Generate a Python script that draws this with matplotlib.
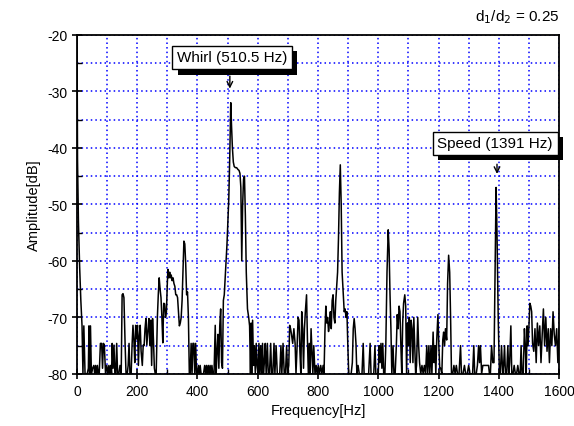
import numpy as np
import matplotlib.pyplot as plt
from matplotlib.ticker import MultipleLocator
from matplotlib import patheffects

plt.rcParams['font.family'] = ['Liberation Sans', 'DejaVu Sans']
plt.rcParams['axes.unicode_minus'] = False

# 频谱数据
spectrum = [
    (0, -15), (2, -42), (5, -53), (9, -61), (13, -67), (17, -71.5), (20, -80), (23, -71.5),
    (27, -80), (30, -80), (34, -80), (38, -79), (40, -71.5), (42, -80), (45, -71.5), (48, -80),
    (52, -79), (56, -78.5), (59, -80), (62, -78.5), (65, -80), (68, -78.5), (71, -80), (74, -80),
    (78, -74.6), (82, -74.6), (85, -79), (88, -74.6), (91, -74.9), (95, -80), (99, -78.5), (103, -80),
    (106, -78.5), (109, -80), (112, -78.5), (115, -80), (117, -74.6), (120, -79), (123, -74.9), (126, -80),
    (129, -80), (132, -74.6), (135, -80), (139, -80), (143, -78.5), (147, -80), (150, -66), (153, -65.8),
    (156, -66.5), (160, -74.9), (163, -80), (167, -80), (170, -78.5), (173, -74.6), (176, -80), (180, -80),
    (183, -74.9), (186, -71.4), (189, -74), (192, -78), (195, -71.4), (198, -73.8), (201, -71.4), (204, -78.5),
    (207, -73.2), (210, -71.4), (213, -76), (217, -78.5), (220, -74.9), (223, -75), (226, -72), (229, -70.2),
    (232, -74.9), (236, -72), (239, -70.2), (242, -75), (245, -70.5), (248, -78.5), (251, -70.2), (254, -74),
    (257, -79), (260, -80), (263, -80), (267, -70), (270, -66), (273, -63), (276, -65), (279, -66.5),
    (282, -70), (285, -74.5), (288, -67.5), (291, -67.6), (294, -70), (297, -69), (300, -64), (302, -61.5),
    (305, -63), (308, -62), (310, -63), (313, -62.5), (316, -63.5), (319, -63), (322, -64), (325, -64.5),
    (328, -66), (331, -66), (334, -66.5), (337, -69), (340, -71.5), (343, -71), (346, -70), (349, -67),
    (352, -62), (355, -56.5), (358, -57), (361, -60.5), (364, -66), (367, -65.5), (370, -70), (373, -80),
    (376, -80), (379, -74.6), (382, -80), (385, -74.6), (388, -74.6), (391, -80), (394, -74.6), (397, -80),
    (400, -80), (403, -78.5), (406, -80), (409, -78.5), (412, -80), (416, -80), (420, -80), (424, -78.5),
    (427, -80), (430, -78.5), (433, -80), (436, -78.5), (439, -80), (442, -78.5), (445, -80), (448, -78.5),
    (451, -80), (455, -80), (459, -71.4), (462, -80), (465, -76), (468, -73), (471, -79), (474, -71.5),
    (477, -68.5), (480, -78), (483, -79), (486, -67), (489, -66), (492, -63), (495, -60), (498, -57),
    (501, -53), (504, -49), (507, -42), (510.5, -32), (513, -36), (516, -40), (519, -42.5), (522, -43.3),
    (526, -43.5), (530, -43.5), (534, -43.8), (538, -44), (541, -44.5), (544, -47), (547, -60), (550, -50),
    (553, -45.5), (556, -45), (559, -52), (562, -62), (566, -68.5), (570, -70), (573, -71.5), (576, -80),
    (578, -71), (580, -80), (583, -70.5), (586, -78.5), (589, -75), (592, -80), (595, -74.6), (598, -78.5),
    (601, -80), (604, -74.6), (607, -80), (610, -75), (613, -80), (616, -74.6), (619, -80), (622, -78),
    (625, -74.6), (628, -80), (632, -74.6), (635, -80), (639, -80), (643, -74.6), (646, -80), (650, -80),
    (654, -74.6), (657, -80), (661, -75), (665, -80), (669, -80), (673, -80), (677, -75), (680, -80),
    (684, -74.6), (688, -80), (692, -80), (696, -75), (699, -80), (703, -78.5), (706, -71.4), (709, -72),
    (712, -73), (716, -74.6), (720, -72), (724, -74.6), (727, -80), (731, -74.6), (734, -70), (737, -70.5),
    (740, -76), (743, -80), (746, -69), (749, -72), (752, -79), (755, -72), (758, -69), (762, -66),
    (765, -74), (768, -80), (771, -74.6), (774, -80), (777, -72), (780, -76), (783, -80), (786, -75),
    (790, -80), (794, -78.5), (797, -80), (801, -78.5), (805, -80), (809, -78.5), (813, -80), (817, -78.5),
    (820, -80), (823, -72.6), (826, -68), (829, -71), (832, -70), (835, -72.5), (838, -71), (841, -69),
    (844, -72), (847, -67), (850, -66), (853, -70), (856, -71), (859, -67), (862, -64.5), (865, -62),
    (868, -56), (871, -48), (874, -43), (877, -50), (880, -62), (884, -66), (887, -69), (890, -68.5),
    (893, -70), (896, -69), (899, -75), (902, -80), (906, -80), (910, -80), (914, -78), (917, -72),
    (920, -70.2), (923, -72), (926, -74.6), (929, -80), (933, -78.5), (937, -80), (941, -80), (946, -80),
    (950, -74.6), (953, -80), (958, -80), (963, -80), (968, -80), (973, -74.6), (976, -80), (980, -80),
    (985, -80), (989, -75), (992, -80), (996, -80), (1000, -80), (1003, -75), (1006, -78), (1009, -74.6),
    (1012, -79), (1015, -74.6), (1018, -80), (1022, -80), (1025, -75), (1029, -62), (1033, -54.5), (1036, -58),
    (1039, -66), (1042, -72), (1045, -80), (1049, -75), (1052, -80), (1056, -80), (1060, -75), (1063, -69.5),
    (1066, -72), (1069, -68), (1072, -69), (1075, -75), (1078, -80), (1081, -71), (1084, -67.5), (1088, -66),
    (1091, -68), (1094, -80), (1097, -71), (1100, -75), (1103, -70), (1106, -78), (1109, -70.5), (1112, -72),
    (1115, -78), (1118, -70), (1121, -75), (1124, -80), (1127, -78.5), (1131, -70), (1134, -75), (1137, -78),
    (1141, -80), (1145, -78.5), (1149, -80), (1153, -78.5), (1157, -80), (1161, -75), (1164, -80), (1168, -75),
    (1171, -80), (1175, -75), (1178, -80), (1182, -72.6), (1185, -78), (1188, -75), (1191, -80), (1194, -74),
    (1198, -69.5), (1201, -75), (1204, -79), (1207, -79), (1211, -80), (1214, -74), (1217, -72.6), (1220, -75),
    (1223, -72), (1227, -74), (1230, -64), (1233.5, -59), (1237, -62), (1240, -70), (1243, -80), (1247, -80),
    (1251, -78.5), (1255, -80), (1259, -78.5), (1263, -80), (1268, -80), (1273, -75), (1276, -80), (1281, -80),
    (1286, -78.5), (1290, -80), (1295, -80), (1300, -78.5), (1304, -80), (1309, -80), (1313, -80), (1317, -75),
    (1320, -80), (1325, -80), (1329, -78.5), (1333, -75), (1336, -78), (1339, -75), (1343, -80), (1347, -78.5),
    (1352, -78.5), (1357, -78.5), (1362, -78.5), (1366, -78.5), (1369, -80), (1372, -80), (1376, -75), (1380, -78),
    (1384, -78), (1388, -60), (1391, -47), (1394, -55), (1398, -70), (1402, -80), (1405, -80), (1409, -75),
    (1413, -80), (1416, -78.5), (1419, -75), (1422, -80), (1426, -80), (1430, -75), (1433, -80), (1436, -78),
    (1440, -71.5), (1443, -80), (1447, -80), (1451, -78.5), (1455, -80), (1459, -80), (1463, -78.5), (1467, -80),
    (1471, -80), (1474, -75), (1477, -80), (1481, -80), (1485, -72), (1488, -75), (1491, -80), (1494, -71.5),
    (1497, -75), (1500, -71.5), (1503, -67.5), (1506, -68), (1509, -69), (1512, -74.6), (1516, -76), (1520, -72),
    (1524, -78), (1528, -71), (1532, -75), (1536, -71.5), (1540, -78), (1544, -73), (1548, -68.5), (1552, -75),
    (1556, -70), (1560, -76), (1564, -72), (1568, -78), (1572, -72), (1576, -75), (1580, -69), (1584, -73),
    (1588, -75), (1592, -72), (1596, -78), (1600, -72),
]
freq = [p[0] for p in spectrum]
amp = [p[1] for p in spectrum]

# 标注
whirl_label = 'Whirl (510.5 Hz)'
whirl_freq, whirl_amp = 510.5, -32
speed_label = 'Speed (1391 Hz)'
speed_freq, speed_amp = 1391, -47

fig = plt.figure(figsize=(5.74, 4.27), dpi=100)
ax = fig.add_axes([0.134, 0.122, 0.84, 0.794])

ax.plot(freq, amp, color='black', linewidth=1.1)

ax.set_xlim(0, 1600)
ax.set_ylim(-80, -20)
ax.xaxis.set_major_locator(MultipleLocator(200))
ax.xaxis.set_minor_locator(MultipleLocator(100))
ax.yaxis.set_major_locator(MultipleLocator(10))
ax.yaxis.set_minor_locator(MultipleLocator(5))
ax.tick_params(which='major', direction='inout', length=7, width=1.2, labelsize=10)
ax.tick_params(which='minor', direction='in', length=3.5, width=1.0)
ax.grid(True, which='both', color='blue', linestyle=(0, (1, 2)), linewidth=1.1)
for s in ax.spines.values():
    s.set_linewidth(1.3)

ax.set_xlabel('Frequency[Hz]', fontsize=10.5, labelpad=4)
ax.set_ylabel('Amplitude[dB]', fontsize=10.5, labelpad=4)
ax.text(1.0, 1.03, r'd$_1$/d$_2$ = 0.25', transform=ax.transAxes,
        ha='right', va='bottom', fontsize=11)

shadow = [patheffects.withSimplePatchShadow(offset=(4, -4), shadow_rgbFace='black', alpha=1.0)]

# Whirl 标注
t1 = ax.text(515, -24.0, whirl_label, ha='center', va='center', fontsize=11,
             bbox=dict(boxstyle='square,pad=0.3', facecolor='white', edgecolor='black', linewidth=1))
t1.get_bbox_patch().set_path_effects(shadow)
ax.annotate('', xy=(whirl_freq - 3, whirl_amp + 2.0), xytext=(whirl_freq - 3, whirl_amp + 5.2),
            arrowprops=dict(arrowstyle='->', color='black', lw=1.0, mutation_scale=10))

# Speed 标注
t2 = ax.text(1388, -39.2, speed_label, ha='center', va='center', fontsize=11,
             bbox=dict(boxstyle='square,pad=0.3', facecolor='white', edgecolor='black', linewidth=1))
t2.get_bbox_patch().set_path_effects(shadow)
ax.annotate('', xy=(speed_freq + 3, speed_amp + 1.9), xytext=(speed_freq + 3, speed_amp + 4.6),
            arrowprops=dict(arrowstyle='->', color='black', lw=1.0, mutation_scale=10))

plt.savefig('out.png', dpi=100)
